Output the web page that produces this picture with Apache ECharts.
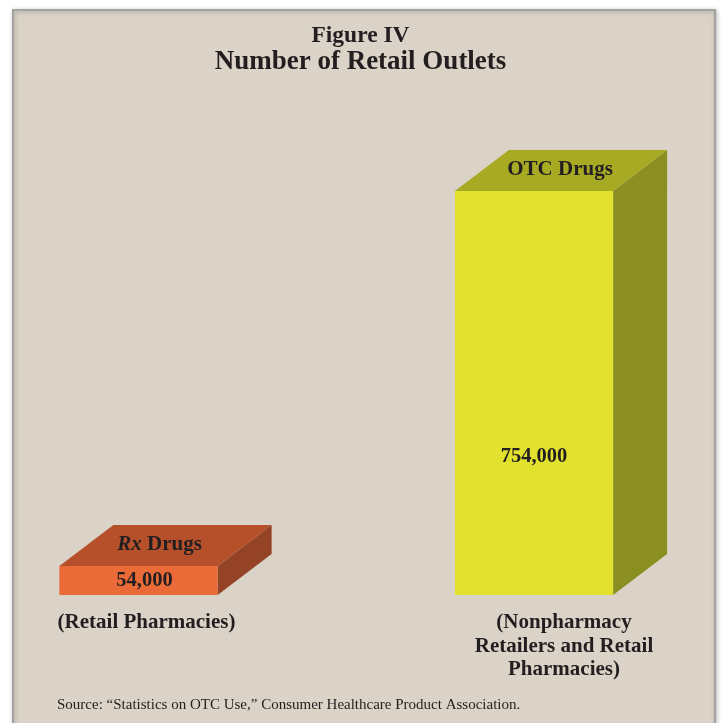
<!DOCTYPE html>
<html>
<head>
<meta charset="utf-8">
<script src="https://cdn.jsdelivr.net/npm/echarts@6/dist/echarts.min.js"></script>
<style>html,body{margin:0;padding:0;background:#fff;}#c{width:721px;height:723px;}</style>
</head>
<body>
<div id="c"></div>
<script>
// ---- data ----
const categories = ['Rx Drugs', 'OTC Drugs'];
const topLabels = ['{i|Rx} Drugs', 'OTC Drugs'];
const values = [54000, 754000];
const valueLabels = ['54,000', '754,000'];
const subLabels = ['(Retail Pharmacies)', '(Nonpharmacy\nRetailers and Retail\nPharmacies)'];
const titleLine1 = 'Figure IV';
const titleLine2 = 'Number of Retail Outlets';
const sourceText = 'Source: \u201cStatistics on OTC Use,\u201d Consumer Healthcare Product Association.';

// ---- styles ----
const colors = [
  { front: '#ea6a38', top: '#b5502b', side: '#944326' },
  { front: '#e2e12d', top: '#a8aa24', side: '#8b8f22' }
];
const valueFrac = [0.5, 0.343];
const valueDx = [6, 0];
const topDx = [-6, -1];
const subDx = [8, 30];
const DX = 54, DY = -41;
const FONT = 'Liberation Serif';
const TXT = '#231f20';

const chart = echarts.init(document.getElementById('c'));
chart.setOption({
  backgroundColor: '#ffffff',
  animation: false,
  title: [
    { text: titleLine1, left: 'center', top: 19, textStyle: { fontFamily: FONT, fontWeight: 'bold', fontSize: 23.5, color: TXT } },
    { text: titleLine2, left: 'center', top: 44, textStyle: { fontFamily: FONT, fontWeight: 'bold', fontSize: 27, color: TXT } }
  ],
  graphic: [
    { type: 'rect', z: -10, shape: { x: 13, y: 10, width: 702, height: 730 },
      style: { fill: '#dbd3c7', stroke: '#a3a3a3', lineWidth: 2, shadowBlur: 4, shadowColor: 'rgba(0,0,0,0.25)', shadowOffsetX: 1, shadowOffsetY: 1 } },
    { type: 'text', x: 57, y: 705, z: 5,
      style: { text: sourceText, fill: TXT, fontFamily: FONT, fontSize: 15, verticalAlign: 'middle' } }
  ],
  grid: { left: 59.4, right: 68.35, top: 166.4, bottom: 128 },
  xAxis: { type: 'value', min: -0.2, max: 1.3, show: false },
  yAxis: { type: 'value', min: 0, max: 800000, show: false },
  series: [{
    type: 'custom',
    data: values.map((v, i) => [i, v]),
    renderItem: function (params, api) {
      const i = api.value(0), v = api.value(1);
      const base = api.coord([i, 0]);
      const top = api.coord([i, v]);
      const w = api.size([0.4, 0])[0];
      const x0 = base[0] - w / 2, x1 = base[0] + w / 2;
      const yb = base[1], yt = top[1];
      const c = colors[i];
      const textBase = { fontFamily: FONT, fontWeight: 'bold', fill: TXT, align: 'center', verticalAlign: 'middle' };
      return {
        type: 'group',
        children: [
          { type: 'polygon', shape: { points: [[x1, yt], [x1 + DX, yt + DY], [x1 + DX, yb + DY], [x1, yb]] }, style: { fill: c.side } },
          { type: 'polygon', shape: { points: [[x0, yt], [x1, yt], [x1 + DX, yt + DY], [x0 + DX, yt + DY]] }, style: { fill: c.top } },
          { type: 'rect', shape: { x: x0, y: yt, width: w, height: yb - yt }, style: { fill: c.front } },
          { type: 'text', style: Object.assign({}, textBase, {
              x: base[0] + DX / 2 + topDx[i], y: yt + DY / 2 - 1, text: topLabels[i], fontSize: 21,
              rich: { i: { fontStyle: 'italic', fontWeight: 'bold', fontFamily: FONT, fontSize: 21, fill: TXT } } }) },
          { type: 'text', style: Object.assign({}, textBase, {
              x: base[0] + valueDx[i], y: yb - (yb - yt) * valueFrac[i], text: valueLabels[i], fontSize: 20.5 }) },
          { type: 'text', style: Object.assign({}, textBase, {
              x: base[0] + subDx[i], y: yb + 16, text: subLabels[i], fontSize: 21, verticalAlign: 'top', lineHeight: 23.5 }) }
        ]
      };
    }
  }]
});
</script>
</body>
</html>
